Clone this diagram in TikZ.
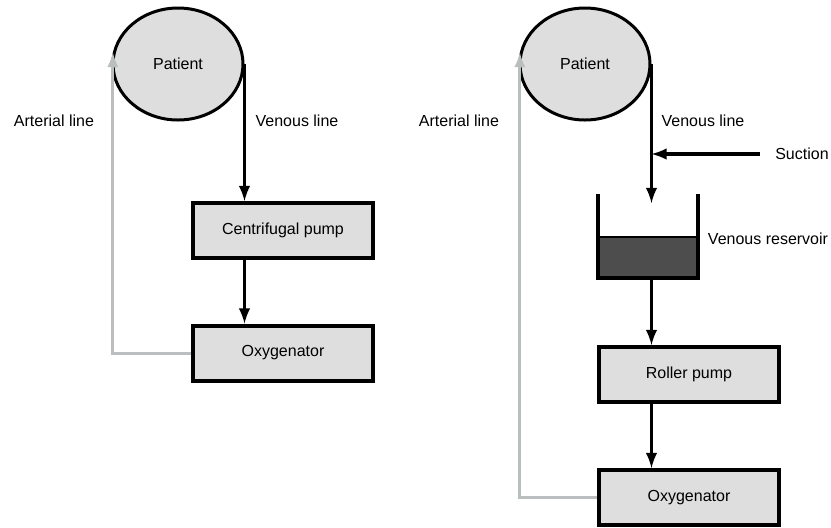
\documentclass[tikz,border=0pt]{standalone}
\usepackage{fontspec}
\setmainfont{Liberation Sans}
\usetikzlibrary{shapes.geometric,arrows}
\definecolor{boxgrey}{RGB}{222,222,222}
\definecolor{artgrey}{RGB}{186,190,190}
\definecolor{resgrey}{RGB}{77,77,77}
\tikzset{every path/.style={line width=1.6pt}, every node/.style={font=\fontsize{8}{9.6}\selectfont}}
\tikzset{patient/.style={ellipse, draw=black, fill=boxgrey, line width=1.5pt, minimum width=65pt, minimum height=56pt, inner sep=0pt},
         unit/.style={rectangle, draw=black, fill=boxgrey, line width=2pt, minimum width=90pt, minimum height=27.5pt, inner sep=0pt},
         liquid/.style={rectangle, draw=black, fill=resgrey, line width=1.2pt, minimum width=49pt, minimum height=20pt, inner sep=0pt},
         flow/.style={draw=black,-latex},
         art/.style={draw=artgrey,line width=1.5pt,-latex}}

\begin{document}
\begin{tikzpicture}[x=0.5pt,y=-0.5pt]
  \useasboundingbox (0,0) rectangle (831,527);
  % left circuit
  \begin{scope}
   \node[patient] (pl) at (178,64) {Patient};
   \node[unit] (cp) at (283,230.5) {Centrifugal pump};
   \node[unit] (ol) at (283,353) {Oxygenator};
   \node (vl) at (297,121) {Venous line};
   \node (al) at (54,121) {Arterial line};
   \draw[flow] (pl.east) -- (pl.east |- cp.north);
   \draw[flow] (pl.east |- cp.south) -- (pl.east |- ol.north);
   \draw[art] (ol.west) -| (pl.170);
  \end{scope}
  % right circuit
  \begin{scope}
   \node[patient] (pr) at (585,64) {Patient};
   \node[liquid] (rv) at (648,257) {};
   \node[unit] (rp) at (689,374.5) {Roller pump};
   \node[unit] (or) at (689,497.5) {Oxygenator};
   \node (vr) at (703,121) {Venous line};
   \node (ar) at (459,121) {Arterial line};
   \node (sl) at (802,154) {Suction};
   \node (rl) at (768,239) {Venous reservoir};
   \coordinate (rin) at (650,203);
   \coordinate (su) at (760,154);
   \draw[line width=2pt] ([yshift=21pt]rv.north west) -- (rv.south west) -- (rv.south east) -- ([yshift=21pt]rv.north east);
   \draw[flow] (pr.east) -- (pr.east |- rin);
   \draw[flow] (su) -- (su -| pr.east);
   \draw[flow] (pr.east |- rv.south) -- (pr.east |- rp.north);
   \draw[flow] (pr.east |- rp.south) -- (pr.east |- or.north);
   \draw[art] (or.west) -| (pr.170);
  \end{scope}
\end{tikzpicture}
\end{document}
